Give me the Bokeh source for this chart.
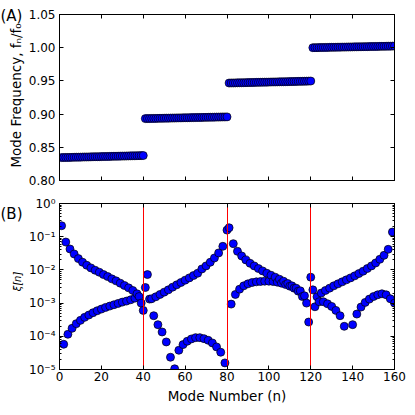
import math
from bokeh.plotting import figure
from bokeh.layouts import column, row
from bokeh.models import (LinearAxis, LogAxis, FixedTicker, Label,
                          NumeralTickFormatter, CustomJSTickFormatter, Range1d,
                          ColumnDataSource)
from bokeh.embed import file_html
from bokeh.resources import INLINE

# ---------------- data ----------------
mode_number = list(range(1, 161))

freq_ratio = [
    0.8345, 0.8346, 0.8347, 0.8347, 0.8348, 0.8349, 0.8350, 0.8351, 0.8351, 0.8352,
    0.8353, 0.8354, 0.8354, 0.8355, 0.8356, 0.8357, 0.8358, 0.8358, 0.8359, 0.8360,
    0.8361, 0.8361, 0.8362, 0.8363, 0.8364, 0.8365, 0.8365, 0.8366, 0.8367, 0.8368,
    0.8368, 0.8369, 0.8370, 0.8371, 0.8372, 0.8372, 0.8373, 0.8374, 0.8375, 0.8376,
    0.8932, 0.8933, 0.8933, 0.8934, 0.8935, 0.8935, 0.8936, 0.8937, 0.8937, 0.8938,
    0.8939, 0.8939, 0.8940, 0.8941, 0.8941, 0.8942, 0.8943, 0.8943, 0.8944, 0.8945,
    0.8945, 0.8946, 0.8947, 0.8947, 0.8948, 0.8949, 0.8949, 0.8950, 0.8951, 0.8951,
    0.8952, 0.8953, 0.8953, 0.8954, 0.8955, 0.8955, 0.8956, 0.8957, 0.8957, 0.8958,
    0.9468, 0.9469, 0.9469, 0.9470, 0.9471, 0.9472, 0.9472, 0.9473, 0.9474, 0.9475,
    0.9475, 0.9476, 0.9477, 0.9478, 0.9478, 0.9479, 0.9480, 0.9481, 0.9481, 0.9482,
    0.9483, 0.9484, 0.9484, 0.9485, 0.9486, 0.9487, 0.9487, 0.9488, 0.9489, 0.9490,
    0.9490, 0.9491, 0.9492, 0.9493, 0.9493, 0.9494, 0.9495, 0.9496, 0.9497, 0.9498,
    1.0000, 1.0001, 1.0001, 1.0002, 1.0003, 1.0003, 1.0004, 1.0004, 1.0005, 1.0006,
    1.0006, 1.0007, 1.0008, 1.0008, 1.0009, 1.0009, 1.0010, 1.0011, 1.0011, 1.0012,
    1.0013, 1.0013, 1.0014, 1.0014, 1.0015, 1.0016, 1.0016, 1.0017, 1.0018, 1.0018,
    1.0019, 1.0019, 1.0020, 1.0021, 1.0021, 1.0022, 1.0023, 1.0023, 1.0024, 1.0025,
]

xi = [
    2.14e-1, 5.75e-5, 6.90e-2, 1.15e-4, 4.27e-2, 1.74e-4, 3.02e-2, 2.40e-4, 2.19e-2, 3.02e-4,
    1.70e-2, 3.72e-4, 1.38e-2, 4.37e-4, 1.15e-2, 5.13e-4, 9.77e-3, 5.89e-4, 8.51e-3, 6.61e-4,
    7.24e-3, 7.41e-4, 6.31e-3, 8.13e-4, 5.37e-3, 8.91e-4, 4.68e-3, 9.77e-4, 3.98e-3, 1.07e-3,
    3.39e-3, 1.15e-3, 2.88e-3, 1.26e-3, 2.40e-3, 1.41e-3, 1.91e-3, 1.58e-3, 1.00e-3, 6.03e-4,
    2.95e-3, 7.24e-3, 1.32e-3, 1.35e-3, 4.17e-4, 1.55e-3, 2.24e-4, 1.82e-3, 1.35e-4, 2.14e-3,
    6.76e-5, 2.51e-3, 2.34e-5, 3.02e-3, 1.05e-5, 3.55e-3, 3.80e-5, 4.17e-3, 5.62e-5, 4.90e-3,
    7.08e-5, 5.75e-3, 8.32e-5, 6.76e-3, 9.12e-5, 7.94e-3, 9.12e-5, 1.07e-2, 8.51e-5, 1.32e-2,
    7.59e-5, 1.70e-2, 6.31e-5, 2.29e-2, 4.79e-5, 3.24e-2, 3.31e-5, 5.13e-2, 1.58e-5, 1.58e-1,
    1.86e-1, 9.33e-4, 6.17e-2, 1.82e-3, 3.63e-2, 2.63e-3, 2.63e-2, 3.31e-3, 2.00e-2, 3.80e-3,
    1.58e-2, 4.17e-3, 1.32e-2, 4.37e-3, 1.10e-2, 4.47e-3, 9.33e-3, 4.57e-3, 7.94e-3, 4.57e-3,
    6.92e-3, 4.47e-3, 6.03e-3, 4.27e-3, 5.25e-3, 3.98e-3, 4.57e-3, 3.63e-3, 3.89e-3, 3.24e-3,
    3.31e-3, 2.82e-3, 2.82e-3, 2.29e-3, 2.34e-3, 1.58e-3, 1.66e-3, 1.00e-3, 2.69e-4, 6.03e-3,
    2.51e-3, 7.76e-4, 1.55e-3, 1.10e-3, 2.00e-3, 1.10e-3, 2.40e-3, 9.55e-4, 2.82e-3, 7.94e-4,
    3.31e-3, 6.03e-4, 3.80e-3, 4.17e-4, 4.37e-3, 2.00e-4, 5.01e-3, 1.00e-6, 5.75e-3, 2.24e-4,
    6.61e-3, 4.68e-4, 7.76e-3, 7.59e-4, 9.12e-3, 1.05e-3, 1.10e-2, 1.32e-3, 1.32e-2, 1.58e-3,
    1.62e-2, 1.78e-3, 2.09e-2, 1.91e-3, 2.75e-2, 1.78e-3, 4.17e-2, 1.35e-3, 1.38e-1, 1.00e-3,
]

block_edges = [40, 80, 120]
x_ticks = [0, 20, 40, 60, 80, 100, 120, 140, 160]
f_ticks = [0.80, 0.85, 0.90, 0.95, 1.00, 1.05]
xi_ticks = [1e-5, 1e-4, 1e-3, 1e-2, 1e-1, 1e0]

# ---------------- styling helpers ----------------
FONT = "DejaVu Sans"
TICK_PX = "12px"
LABEL_PX = "13.5px"


def style_axis(ax, show_labels=True):
    ax.major_tick_in = 4
    ax.major_tick_out = 0
    ax.minor_tick_in = 2
    ax.minor_tick_out = 0
    ax.axis_line_color = "black"
    ax.major_tick_line_color = "black"
    ax.minor_tick_line_color = "black"
    ax.major_label_text_font = FONT
    ax.axis_label_text_font = FONT
    ax.axis_label_text_font_style = "normal"
    ax.axis_label_text_font_size = LABEL_PX
    ax.axis_label_text_color = "black"
    if show_labels:
        ax.major_label_text_color = "black"
        ax.major_label_text_font_size = TICK_PX
        ax.major_label_standoff = 4
    else:
        # tick marks only: labels are not painted
        ax.major_label_text_color = None
        ax.major_label_text_font_size = "1px"
        ax.major_label_standoff = 0


sup_code = """
const e = Math.round(Math.log10(tick));
const sup = {'-':'\u207b','0':'\u2070','1':'\u00b9','2':'\u00b2','3':'\u00b3','4':'\u2074','5':'\u2075','6':'\u2076','7':'\u2077','8':'\u2078','9':'\u2079'};
return '10' + String(e).split('').map(c => sup[c]).join('');
"""

src = ColumnDataSource(data=dict(n=mode_number, f=freq_ratio, xi=xi))

STRIP_W = 25
PLOT_W = 381

# ---------------- panel A ----------------
p1 = figure(width=PLOT_W, height=191, x_range=Range1d(0, 160), y_range=Range1d(0.80, 1.05),
            output_backend="svg", toolbar_location=None,
            min_border_left=34, min_border_right=12, min_border_top=14, min_border_bottom=11)
p1.grid.visible = False
p1.outline_line_color = "black"

xt1 = FixedTicker(ticks=x_ticks, minor_ticks=[])
yt1 = FixedTicker(ticks=f_ticks, minor_ticks=[])
p1.xaxis.ticker = xt1
p1.yaxis.ticker = yt1
for ax in p1.xaxis:
    style_axis(ax, show_labels=False)
for ax in p1.yaxis:
    style_axis(ax, show_labels=True)
    ax.formatter = NumeralTickFormatter(format="0.00")

top1 = LinearAxis(ticker=xt1)
style_axis(top1, show_labels=False)
p1.add_layout(top1, "above")
right1 = LinearAxis(ticker=yt1)
style_axis(right1, show_labels=False)
p1.add_layout(right1, "right")

p1.scatter(x="n", y="f", source=src, size=8, fill_color="#0000ff",
           line_color="black", line_width=0.7)

# ---------------- panel B ----------------
p2 = figure(width=PLOT_W, height=218, x_range=Range1d(0, 160), y_range=Range1d(1e-5, 1.0),
            y_axis_type="log", output_backend="svg", toolbar_location=None,
            min_border_left=34, min_border_right=12, min_border_top=12, min_border_bottom=40)
p2.grid.visible = False
p2.outline_line_color = "black"

xt2 = FixedTicker(ticks=x_ticks, minor_ticks=[])
minor_log = [m * 10.0 ** e for e in range(-5, 0) for m in range(2, 10)]
yt2 = FixedTicker(ticks=xi_ticks, minor_ticks=minor_log)
p2.xaxis.ticker = xt2
p2.yaxis.ticker = yt2
for ax in p2.xaxis:
    style_axis(ax, show_labels=True)
    ax.major_label_standoff = 2
    ax.axis_label = "Mode Number (n)"
    ax.axis_label_standoff = 4
for ax in p2.yaxis:
    style_axis(ax, show_labels=True)
    ax.formatter = CustomJSTickFormatter(code=sup_code)

top2 = LinearAxis(ticker=xt2)
style_axis(top2, show_labels=False)
p2.add_layout(top2, "above")
right2 = LogAxis(ticker=yt2)
style_axis(right2, show_labels=False)
p2.add_layout(right2, "right")

p2.scatter(x="n", y="xi", source=src, size=8, fill_color="#0000ff",
           line_color="black", line_width=0.7)
p2.vspan(x=block_edges, line_color="#ff0000", line_width=1)

# ---------------- left strip holding panel letters and y titles ----------------
strip = figure(width=STRIP_W, height=409, x_range=Range1d(0, STRIP_W), y_range=Range1d(409, 0),
               output_backend="svg", toolbar_location=None,
               x_axis_location=None, y_axis_location=None,
               min_border_left=0, min_border_right=0, min_border_top=0, min_border_bottom=0)
strip.grid.visible = False
strip.outline_line_color = None

strip.add_layout(Label(x=0, y=15, text="(A)", text_baseline="alphabetic", text_align="left",
                       text_font=FONT, text_font_size="15px", text_color="black"))
strip.add_layout(Label(x=15.5, y=95, text="Mode Frequency, f\u2099/f\u2080", angle=math.pi / 2,
                       text_baseline="middle", text_align="center",
                       text_font=FONT, text_font_size=LABEL_PX, text_color="black"))
strip.add_layout(Label(x=0, y=213, text="(B)", text_baseline="alphabetic", text_align="left",
                       text_font=FONT, text_font_size="15px", text_color="black"))
strip.add_layout(Label(x=16.5, y=281, text="\u03be[n]", angle=math.pi / 2,
                       text_baseline="middle", text_align="center",
                       text_font=FONT, text_font_size="10px", text_font_style="italic",
                       text_color="black"))

layout = row(strip, column(p1, p2, spacing=0), spacing=0)

open("out.html", "w").write(file_html(layout, INLINE))
